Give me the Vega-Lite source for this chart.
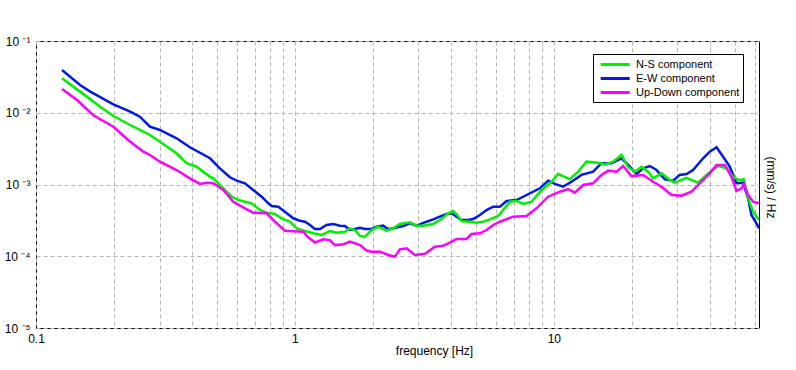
{
  "$schema": "https://vega.github.io/schema/vega-lite/v6.json",
  "width": 723,
  "height": 287,
  "autosize": {"type": "none"},
  "padding": {"left": 36, "top": 41, "right": 37, "bottom": 42},
  "background": "white",
  "config": {
    "font": "Liberation Sans",
    "view": {"stroke": "#000", "strokeWidth": 1},
    "axis": {
      "domain": false,
      "ticks": false,
      "labelFont": "Liberation Sans",
      "labelFontSize": 12,
      "labelColor": "#000",
      "titleFont": "Liberation Sans",
      "titleFontSize": 12,
      "titleFontWeight": "normal",
      "titleColor": "#000",
      "gridColor": "#b4b4b4",
      "gridDash": [4, 3],
      "gridWidth": 1,
      "gridOpacity": 1
    }
  },
  "datasets": {
    "d": [
      {"c": "E-W component", "f": 0.126, "v": 0.0394},
      {"c": "E-W component", "f": 0.148, "v": 0.0244},
      {"c": "E-W component", "f": 0.162, "v": 0.0197},
      {"c": "E-W component", "f": 0.199, "v": 0.0131},
      {"c": "E-W component", "f": 0.231, "v": 0.01034},
      {"c": "E-W component", "f": 0.252, "v": 0.00881},
      {"c": "E-W component", "f": 0.2755, "v": 0.00639},
      {"c": "E-W component", "f": 0.301, "v": 0.00575},
      {"c": "E-W component", "f": 0.349, "v": 0.00441},
      {"c": "E-W component", "f": 0.393, "v": 0.0033},
      {"c": "E-W component", "f": 0.47, "v": 0.00232},
      {"c": "E-W component", "f": 0.513, "v": 0.00168},
      {"c": "E-W component", "f": 0.561, "v": 0.00126},
      {"c": "E-W component", "f": 0.596, "v": 0.00113},
      {"c": "E-W component", "f": 0.641, "v": 0.00104},
      {"c": "E-W component", "f": 0.69, "v": 0.000838},
      {"c": "E-W component", "f": 0.744, "v": 0.000676},
      {"c": "E-W component", "f": 0.789, "v": 0.000547},
      {"c": "E-W component", "f": 0.813, "v": 0.000502},
      {"c": "E-W component", "f": 0.862, "v": 0.00049},
      {"c": "E-W component", "f": 0.915, "v": 0.000418},
      {"c": "E-W component", "f": 0.985, "v": 0.000338},
      {"c": "E-W component", "f": 1.045, "v": 0.000313},
      {"c": "E-W component", "f": 1.093, "v": 0.000303},
      {"c": "E-W component", "f": 1.143, "v": 0.000273},
      {"c": "E-W component", "f": 1.195, "v": 0.00024},
      {"c": "E-W component", "f": 1.249, "v": 0.00024},
      {"c": "E-W component", "f": 1.326, "v": 0.000273},
      {"c": "E-W component", "f": 1.406, "v": 0.000282},
      {"c": "E-W component", "f": 1.492, "v": 0.000267},
      {"c": "E-W component", "f": 1.56, "v": 0.000264},
      {"c": "E-W component", "f": 1.631, "v": 0.000232},
      {"c": "E-W component", "f": 1.705, "v": 0.00024},
      {"c": "E-W component", "f": 1.782, "v": 0.00025},
      {"c": "E-W component", "f": 1.864, "v": 0.00024},
      {"c": "E-W component", "f": 1.978, "v": 0.00024},
      {"c": "E-W component", "f": 2.068, "v": 0.000258},
      {"c": "E-W component", "f": 2.193, "v": 0.000267},
      {"c": "E-W component", "f": 2.293, "v": 0.000238},
      {"c": "E-W component", "f": 2.396, "v": 0.000245},
      {"c": "E-W component", "f": 2.619, "v": 0.000264},
      {"c": "E-W component", "f": 2.78, "v": 0.000288},
      {"c": "E-W component", "f": 2.951, "v": 0.000267},
      {"c": "E-W component", "f": 3.226, "v": 0.000303},
      {"c": "E-W component", "f": 3.42, "v": 0.000327},
      {"c": "E-W component", "f": 3.629, "v": 0.000356},
      {"c": "E-W component", "f": 3.852, "v": 0.000388},
      {"c": "E-W component", "f": 4.027, "v": 0.000397},
      {"c": "E-W component", "f": 4.21, "v": 0.000356},
      {"c": "E-W component", "f": 4.402, "v": 0.00032},
      {"c": "E-W component", "f": 4.668, "v": 0.00032},
      {"c": "E-W component", "f": 4.88, "v": 0.000331},
      {"c": "E-W component", "f": 5.18, "v": 0.000376},
      {"c": "E-W component", "f": 5.498, "v": 0.000441},
      {"c": "E-W component", "f": 5.83, "v": 0.00049},
      {"c": "E-W component", "f": 6.186, "v": 0.00049},
      {"c": "E-W component", "f": 6.568, "v": 0.000589},
      {"c": "E-W component", "f": 7.178, "v": 0.000608},
      {"c": "E-W component", "f": 7.848, "v": 0.000714},
      {"c": "E-W component", "f": 8.829, "v": 0.000885},
      {"c": "E-W component", "f": 9.506, "v": 0.00113},
      {"c": "E-W component", "f": 10.09, "v": 0.00102},
      {"c": "E-W component", "f": 10.86, "v": 0.000932},
      {"c": "E-W component", "f": 11.7, "v": 0.00109},
      {"c": "E-W component", "f": 12.79, "v": 0.00136},
      {"c": "E-W component", "f": 14.18, "v": 0.00151},
      {"c": "E-W component", "f": 15.28, "v": 0.00198},
      {"c": "E-W component", "f": 16.7, "v": 0.00198},
      {"c": "E-W component", "f": 18.26, "v": 0.00232},
      {"c": "E-W component", "f": 19.66, "v": 0.00177},
      {"c": "E-W component", "f": 20.86, "v": 0.0014},
      {"c": "E-W component", "f": 22.12, "v": 0.00168},
      {"c": "E-W component", "f": 23.49, "v": 0.00181},
      {"c": "E-W component", "f": 24.92, "v": 0.00159},
      {"c": "E-W component", "f": 26.83, "v": 0.00118},
      {"c": "E-W component", "f": 28.88, "v": 0.00113},
      {"c": "E-W component", "f": 30.65, "v": 0.00136},
      {"c": "E-W component", "f": 32.53, "v": 0.0014},
      {"c": "E-W component", "f": 34.5, "v": 0.00159},
      {"c": "E-W component", "f": 37.71, "v": 0.00232},
      {"c": "E-W component", "f": 40.03, "v": 0.00287},
      {"c": "E-W component", "f": 42.49, "v": 0.0033},
      {"c": "E-W component", "f": 45.06, "v": 0.00244},
      {"c": "E-W component", "f": 47.81, "v": 0.00177},
      {"c": "E-W component", "f": 50.75, "v": 0.00104},
      {"c": "E-W component", "f": 53.81, "v": 0.00106},
      {"c": "E-W component", "f": 56.26, "v": 0.000642},
      {"c": "E-W component", "f": 57.99, "v": 0.000376},
      {"c": "E-W component", "f": 60.61, "v": 0.000288},
      {"c": "E-W component", "f": 62, "v": 0.000245},

      {"c": "N-S component", "f": 0.126, "v": 0.0302},
      {"c": "N-S component", "f": 0.148, "v": 0.0197},
      {"c": "N-S component", "f": 0.177, "v": 0.0121},
      {"c": "N-S component", "f": 0.199, "v": 0.00901},
      {"c": "N-S component", "f": 0.231, "v": 0.00675},
      {"c": "N-S component", "f": 0.26, "v": 0.00544},
      {"c": "N-S component", "f": 0.2755, "v": 0.0049},
      {"c": "N-S component", "f": 0.301, "v": 0.00395},
      {"c": "N-S component", "f": 0.349, "v": 0.00272},
      {"c": "N-S component", "f": 0.382, "v": 0.00198},
      {"c": "N-S component", "f": 0.417, "v": 0.00177},
      {"c": "N-S component", "f": 0.47, "v": 0.00128},
      {"c": "N-S component", "f": 0.484, "v": 0.00122},
      {"c": "N-S component", "f": 0.529, "v": 0.000885},
      {"c": "N-S component", "f": 0.57, "v": 0.000676},
      {"c": "N-S component", "f": 0.604, "v": 0.000608},
      {"c": "N-S component", "f": 0.641, "v": 0.000576},
      {"c": "N-S component", "f": 0.68, "v": 0.000547},
      {"c": "N-S component", "f": 0.733, "v": 0.000441},
      {"c": "N-S component", "f": 0.778, "v": 0.000405},
      {"c": "N-S component", "f": 0.837, "v": 0.000388},
      {"c": "N-S component", "f": 0.888, "v": 0.000338},
      {"c": "N-S component", "f": 0.957, "v": 0.000303},
      {"c": "N-S component", "f": 1.015, "v": 0.000245},
      {"c": "N-S component", "f": 1.093, "v": 0.000225},
      {"c": "N-S component", "f": 1.177, "v": 0.000209},
      {"c": "N-S component", "f": 1.269, "v": 0.000198},
      {"c": "N-S component", "f": 1.365, "v": 0.000225},
      {"c": "N-S component", "f": 1.449, "v": 0.000213},
      {"c": "N-S component", "f": 1.56, "v": 0.00022},
      {"c": "N-S component", "f": 1.631, "v": 0.000245},
      {"c": "N-S component", "f": 1.705, "v": 0.000232},
      {"c": "N-S component", "f": 1.782, "v": 0.000192},
      {"c": "N-S component", "f": 1.864, "v": 0.000187},
      {"c": "N-S component", "f": 1.978, "v": 0.000232},
      {"c": "N-S component", "f": 2.097, "v": 0.000258},
      {"c": "N-S component", "f": 2.26, "v": 0.000227},
      {"c": "N-S component", "f": 2.396, "v": 0.000245},
      {"c": "N-S component", "f": 2.543, "v": 0.000282},
      {"c": "N-S component", "f": 2.78, "v": 0.000297},
      {"c": "N-S component", "f": 2.951, "v": 0.000267},
      {"c": "N-S component", "f": 3.13, "v": 0.000267},
      {"c": "N-S component", "f": 3.42, "v": 0.000282},
      {"c": "N-S component", "f": 3.685, "v": 0.000331},
      {"c": "N-S component", "f": 3.908, "v": 0.000397},
      {"c": "N-S component", "f": 4.085, "v": 0.000427},
      {"c": "N-S component", "f": 4.21, "v": 0.000388},
      {"c": "N-S component", "f": 4.402, "v": 0.00031},
      {"c": "N-S component", "f": 4.74, "v": 0.000303},
      {"c": "N-S component", "f": 5.029, "v": 0.000294},
      {"c": "N-S component", "f": 5.333, "v": 0.000303},
      {"c": "N-S component", "f": 5.661, "v": 0.000327},
      {"c": "N-S component", "f": 6.009, "v": 0.000356},
      {"c": "N-S component", "f": 6.186, "v": 0.000388},
      {"c": "N-S component", "f": 6.763, "v": 0.000576},
      {"c": "N-S component", "f": 7.178, "v": 0.000595},
      {"c": "N-S component", "f": 7.613, "v": 0.000535},
      {"c": "N-S component", "f": 8.201, "v": 0.000576},
      {"c": "N-S component", "f": 8.965, "v": 0.000838},
      {"c": "N-S component", "f": 9.797, "v": 0.00109},
      {"c": "N-S component", "f": 10.39, "v": 0.0014},
      {"c": "N-S component", "f": 11.53, "v": 0.00119},
      {"c": "N-S component", "f": 12.41, "v": 0.00151},
      {"c": "N-S component", "f": 13.38, "v": 0.00208},
      {"c": "N-S component", "f": 14.83, "v": 0.00201},
      {"c": "N-S component", "f": 15.74, "v": 0.00191},
      {"c": "N-S component", "f": 16.94, "v": 0.00208},
      {"c": "N-S component", "f": 18.26, "v": 0.00258},
      {"c": "N-S component", "f": 19.36, "v": 0.00175},
      {"c": "N-S component", "f": 20.55, "v": 0.00151},
      {"c": "N-S component", "f": 21.81, "v": 0.00177},
      {"c": "N-S component", "f": 23.13, "v": 0.00151},
      {"c": "N-S component", "f": 24.18, "v": 0.00122},
      {"c": "N-S component", "f": 26.05, "v": 0.00143},
      {"c": "N-S component", "f": 28.04, "v": 0.00116},
      {"c": "N-S component", "f": 29.32, "v": 0.00106},
      {"c": "N-S component", "f": 32.53, "v": 0.00124},
      {"c": "N-S component", "f": 36.06, "v": 0.00106},
      {"c": "N-S component", "f": 39.42, "v": 0.00143},
      {"c": "N-S component", "f": 43.1, "v": 0.00181},
      {"c": "N-S component", "f": 46.44, "v": 0.00168},
      {"c": "N-S component", "f": 49.25, "v": 0.00128},
      {"c": "N-S component", "f": 51.48, "v": 0.00116},
      {"c": "N-S component", "f": 54.15, "v": 0.00118},
      {"c": "N-S component", "f": 56.26, "v": 0.000642},
      {"c": "N-S component", "f": 58.83, "v": 0.000418},
      {"c": "N-S component", "f": 62, "v": 0.00032},

      {"c": "Up-Down component", "f": 0.126, "v": 0.0214},
      {"c": "Up-Down component", "f": 0.144, "v": 0.0151},
      {"c": "Up-Down component", "f": 0.166, "v": 0.0093},
      {"c": "Up-Down component", "f": 0.199, "v": 0.00639},
      {"c": "Up-Down component", "f": 0.231, "v": 0.00395},
      {"c": "Up-Down component", "f": 0.26, "v": 0.00287},
      {"c": "Up-Down component", "f": 0.2755, "v": 0.00258},
      {"c": "Up-Down component", "f": 0.301, "v": 0.00208},
      {"c": "Up-Down component", "f": 0.349, "v": 0.00159},
      {"c": "Up-Down component", "f": 0.393, "v": 0.00122},
      {"c": "Up-Down component", "f": 0.43, "v": 0.00102},
      {"c": "Up-Down component", "f": 0.456, "v": 0.00106},
      {"c": "Up-Down component", "f": 0.484, "v": 0.00104},
      {"c": "Up-Down component", "f": 0.529, "v": 0.000838},
      {"c": "Up-Down component", "f": 0.578, "v": 0.000576},
      {"c": "Up-Down component", "f": 0.641, "v": 0.000466},
      {"c": "Up-Down component", "f": 0.69, "v": 0.000405},
      {"c": "Up-Down component", "f": 0.778, "v": 0.000397},
      {"c": "Up-Down component", "f": 0.837, "v": 0.000303},
      {"c": "Up-Down component", "f": 0.915, "v": 0.000227},
      {"c": "Up-Down component", "f": 1.076, "v": 0.00022},
      {"c": "Up-Down component", "f": 1.126, "v": 0.000184},
      {"c": "Up-Down component", "f": 1.195, "v": 0.000155},
      {"c": "Up-Down component", "f": 1.286, "v": 0.000172},
      {"c": "Up-Down component", "f": 1.365, "v": 0.000168},
      {"c": "Up-Down component", "f": 1.427, "v": 0.000143},
      {"c": "Up-Down component", "f": 1.537, "v": 0.000147},
      {"c": "Up-Down component", "f": 1.631, "v": 0.00016},
      {"c": "Up-Down component", "f": 1.782, "v": 0.000143},
      {"c": "Up-Down component", "f": 1.892, "v": 0.00012},
      {"c": "Up-Down component", "f": 1.978, "v": 0.000116},
      {"c": "Up-Down component", "f": 2.129, "v": 0.000116},
      {"c": "Up-Down component", "f": 2.293, "v": 0.000104},
      {"c": "Up-Down component", "f": 2.433, "v": 0.0000986},
      {"c": "Up-Down component", "f": 2.543, "v": 0.000125},
      {"c": "Up-Down component", "f": 2.7, "v": 0.000129},
      {"c": "Up-Down component", "f": 2.906, "v": 0.000104},
      {"c": "Up-Down component", "f": 3.177, "v": 0.000108},
      {"c": "Up-Down component", "f": 3.472, "v": 0.000136},
      {"c": "Up-Down component", "f": 3.738, "v": 0.00014},
      {"c": "Up-Down component", "f": 3.967, "v": 0.000155},
      {"c": "Up-Down component", "f": 4.21, "v": 0.000174},
      {"c": "Up-Down component", "f": 4.602, "v": 0.000174},
      {"c": "Up-Down component", "f": 4.811, "v": 0.000204},
      {"c": "Up-Down component", "f": 5.18, "v": 0.000209},
      {"c": "Up-Down component", "f": 5.498, "v": 0.000232},
      {"c": "Up-Down component", "f": 5.83, "v": 0.000273},
      {"c": "Up-Down component", "f": 6.186, "v": 0.000303},
      {"c": "Up-Down component", "f": 6.965, "v": 0.000356},
      {"c": "Up-Down component", "f": 7.848, "v": 0.000364},
      {"c": "Up-Down component", "f": 8.575, "v": 0.000466},
      {"c": "Up-Down component", "f": 9.506, "v": 0.000676},
      {"c": "Up-Down component", "f": 10.55, "v": 0.000794},
      {"c": "Up-Down component", "f": 11.36, "v": 0.000866},
      {"c": "Up-Down component", "f": 12.05, "v": 0.000769},
      {"c": "Up-Down component", "f": 12.98, "v": 0.000984},
      {"c": "Up-Down component", "f": 14.18, "v": 0.00104},
      {"c": "Up-Down component", "f": 15.28, "v": 0.00136},
      {"c": "Up-Down component", "f": 16.21, "v": 0.00156},
      {"c": "Up-Down component", "f": 17.46, "v": 0.00151},
      {"c": "Up-Down component", "f": 18.52, "v": 0.00181},
      {"c": "Up-Down component", "f": 19.95, "v": 0.00131},
      {"c": "Up-Down component", "f": 22.12, "v": 0.00136},
      {"c": "Up-Down component", "f": 24.18, "v": 0.00109},
      {"c": "Up-Down component", "f": 26.05, "v": 0.000932},
      {"c": "Up-Down component", "f": 28.47, "v": 0.000714},
      {"c": "Up-Down component", "f": 31.12, "v": 0.0007},
      {"c": "Up-Down component", "f": 34.02, "v": 0.000794},
      {"c": "Up-Down component", "f": 36.62, "v": 0.00104},
      {"c": "Up-Down component", "f": 40.03, "v": 0.00143},
      {"c": "Up-Down component", "f": 42.49, "v": 0.00187},
      {"c": "Up-Down component", "f": 45.73, "v": 0.00187},
      {"c": "Up-Down component", "f": 48.54, "v": 0.00128},
      {"c": "Up-Down component", "f": 50.75, "v": 0.000812},
      {"c": "Up-Down component", "f": 53.05, "v": 0.000885},
      {"c": "Up-Down component", "f": 54.15, "v": 0.00102},
      {"c": "Up-Down component", "f": 56.26, "v": 0.000714},
      {"c": "Up-Down component", "f": 58.83, "v": 0.000576},
      {"c": "Up-Down component", "f": 62, "v": 0.000547}
    ]
  },
  "data": {"name": "d"},
  "mark": {"type": "line", "strokeWidth": 2.5, "clip": true},
  "encoding": {
    "x": {
      "field": "f",
      "type": "quantitative",
      "scale": {"type": "log", "domain": [0.1, 62], "nice": false},
      "axis": {
        "values": [0.1, 0.2, 0.3, 0.4, 0.5, 0.6, 0.7, 0.8, 0.9, 1, 2, 3, 4, 5, 6, 7, 8, 9, 10, 20, 30, 40, 50, 60],
        "labelExpr": "datum.value == 0.1 ? '0.1' : datum.value == 1 ? '1' : datum.value == 10 ? '10' : ''",
        "labelOverlap": false,
        "labelFlush": false,
        "labelPadding": 5,
        "labelBaseline": "top",
        "title": "frequency [Hz]",
        "titleX": 398,
        "titleY": 22,
        "titleAlign": "center",
        "titleBaseline": "middle"
      }
    },
    "y": {
      "field": "v",
      "type": "quantitative",
      "scale": {"type": "log", "domain": [0.00001, 0.1], "nice": false},
      "axis": {
        "values": [0.00001, 0.0001, 0.001, 0.01, 0.1],
        "labelExpr": "'10 ' + ['⁰','⁻¹','⁻²','⁻³','⁻⁴','⁻⁵'][round(-log(datum.value)/LN10)]",
        "labelOverlap": false,
        "labelFlush": false,
        "labelPadding": 6,
        "title": "(mm/s) / Hz",
        "titleAngle": 90,
        "titleX": 734,
        "titleY": 146,
        "titleAlign": "center",
        "titleBaseline": "middle"
      }
    },
    "color": {
      "field": "c",
      "type": "nominal",
      "scale": {
        "domain": ["N-S component", "E-W component", "Up-Down component"],
        "range": ["#00f000", "#0018e8", "#ff00ff"]
      },
      "legend": {
        "orient": "none",
        "legendX": 557,
        "legendY": 13,
        "title": null,
        "symbolType": "M-1,0H4",
        "symbolSize": 134.5,
        "symbolStrokeWidth": 3,
        "symbolOffset": 3,
        "labelFontSize": 11,
        "labelFont": "Liberation Sans",
        "labelColor": "#000",
        "labelOffset": 22,
        "strokeColor": "#000",
        "fillColor": "#fff",
        "padding": 3,
        "rowPadding": 0
      }
    }
  }
}
